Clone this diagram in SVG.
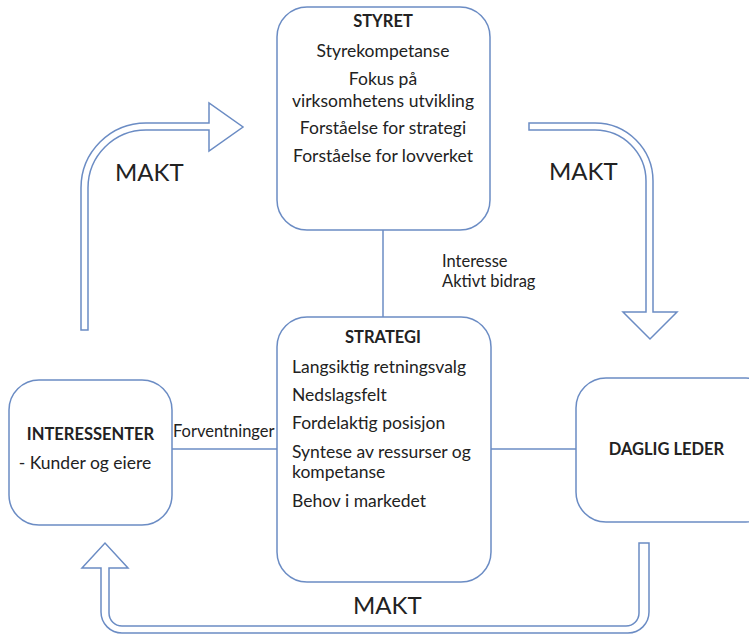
<svg xmlns="http://www.w3.org/2000/svg" width="749" height="634" viewBox="0 0 749 634">
  <style>
    .box { fill: #ffffff; stroke: #6b8cc4; stroke-width: 1.5; }
    .link { stroke: #6b8cc4; stroke-width: 1.5; fill: none; }
    .arrow { fill: #ffffff; stroke: #6b8cc4; stroke-width: 1.5; stroke-linejoin: miter; }
    text { font-family: Lato, "Liberation Sans", sans-serif; fill: #222222; }
    .t { font-size: 16.5px; }
    .item { font-size: 17.5px; }
    .b { font-size: 16.5px; font-weight: bold; }
    .mid { text-anchor: middle; }
    .big { font-size: 24px; }
  </style>
  <rect width="749" height="634" fill="#ffffff"/>

  <!-- connectors -->
  <g id="connectors">
    <line class="link" x1="383" y1="230" x2="383" y2="317"/>
    <line class="link" x1="172" y1="449" x2="277" y2="449"/>
    <line class="link" x1="491" y1="449" x2="576" y2="449"/>
    <text class="t" x="173" y="437">Forventninger</text>
    <text class="t" x="442" y="267">Interesse</text>
    <text class="t" x="442" y="287">Aktivt bidrag</text>
  </g>

  <!-- block arrows: power flow -->
  <g id="makt-arrows">
    <path class="arrow" d="M81,330 V188 A65,65 0 0 1 146,123 H209 V103 L243,127 L209,151 V130 H146 A58,58 0 0 0 88,188 V330 Z"/>
    <text class="big" x="115" y="181">MAKT</text>
    <path class="arrow" d="M529,123 H595 A58,58 0 0 1 653,181 V312 H677 L650,339 L623,312 H646 V181 A51,51 0 0 0 595,130 H529 Z"/>
    <text class="big" x="549" y="180">MAKT</text>
    <path class="arrow" d="M101,568 H82 L105,543 L128,568 H109 V613 A13,13 0 0 0 122,626 H626 A13,13 0 0 0 639,613 V543 H649 V612 A21,21 0 0 1 628,633 H122 A21,21 0 0 1 101,612 Z"/>
    <text class="big" x="353" y="614">MAKT</text>
  </g>

  <g id="styret">
    <rect class="box" x="277" y="7" width="213" height="223" rx="30"/>
    <text class="b mid" x="383" y="27">STYRET</text>
    <text class="item mid" x="383" y="57">Styrekompetanse</text>
    <text class="item mid" x="383" y="85">Fokus på</text>
    <text class="item mid" x="383" y="107">virksomhetens utvikling</text>
    <text class="item mid" x="383" y="134">Forståelse for strategi</text>
    <text class="item mid" x="383" y="162">Forståelse for lovverket</text>
  </g>

  <g id="strategi">
    <rect class="box" x="277" y="317" width="214" height="265" rx="30"/>
    <text class="b mid" x="383" y="343">STRATEGI</text>
    <text class="item" x="292" y="373">Langsiktig retningsvalg</text>
    <text class="item" x="292" y="401">Nedslagsfelt</text>
    <text class="item" x="292" y="429">Fordelaktig posisjon</text>
    <text class="item" x="292" y="458">Syntese av ressurser og</text>
    <text class="item" x="292" y="478">kompetanse</text>
    <text class="item" x="292" y="507">Behov i markedet</text>
  </g>

  <g id="interessenter">
    <rect class="box" x="9" y="380" width="163" height="145" rx="30"/>
    <text class="b mid" x="90.5" y="440">INTERESSENTER</text>
    <text class="item mid" x="85" y="469">- Kunder og eiere</text>
  </g>

  <g id="daglig-leder">
    <rect class="box" x="576" y="378" width="200" height="144" rx="30"/>
    <text class="b mid" x="666.5" y="455">DAGLIG LEDER</text>
  </g>
</svg>
